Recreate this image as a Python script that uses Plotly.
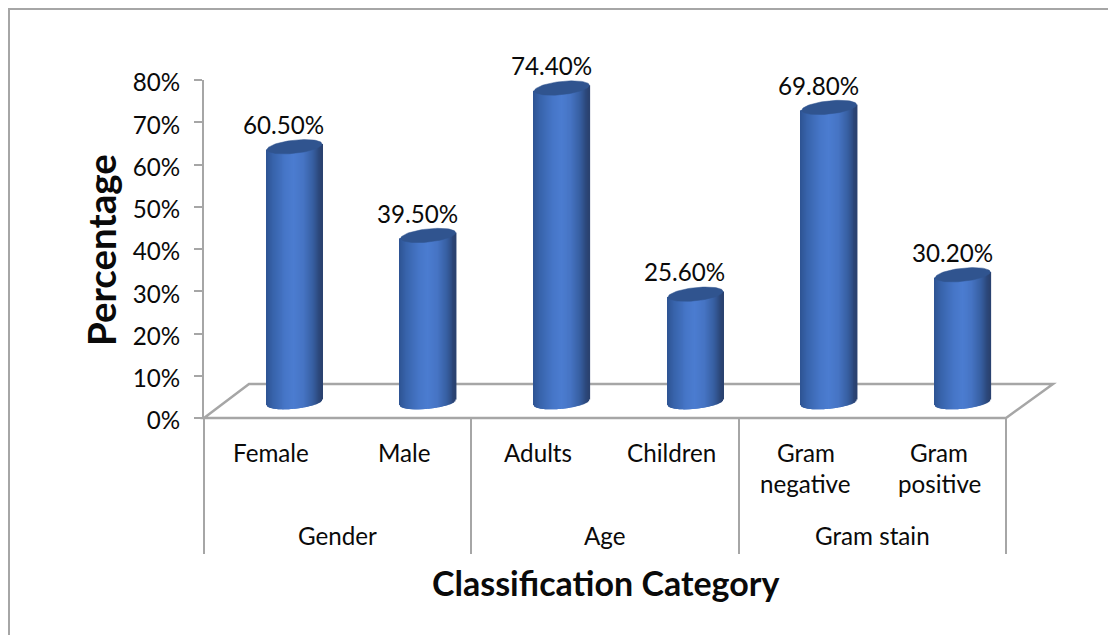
import numpy as np
import plotly.graph_objects as go

# Chart data
groups = ["Gender", "Age", "Gram stain"]
categories = ["Female", "Male", "Adults", "Children", "Gram negative", "Gram positive"]
category_lines = [["Female"], ["Male"], ["Adults"], ["Children"], ["Gram", "negative"], ["Gram", "positive"]]
values = [60.5, 39.5, 74.4, 25.6, 69.8, 30.2]
y_ticks = [0, 10, 20, 30, 40, 50, 60, 70, 80]
group_edges = [0, 2, 4, 6]

# Canvas and plot box, in pixels
W, H = 1108, 635
L, R, T, B = 204, 1006, 80, 418
PX_X = (R - L) / 6          # pixels per category
PX_Y = (B - T) / 80         # pixels per percentage point

GREY = "#a6a6a6"
INK = "#0a0a0a"
FONT = "Lato"
LABEL_SIZE = 24.2
CAP = "#30548f"

# Cylinder geometry: floor depth shifts each column right and up
DEPTH_X = 23.7 / PX_X
BASE = 3.7
HALF_W = 27.5 / PX_X
CAP_H = 6.6 / PX_Y
FOOT_H = 6.4 / PX_Y
TILT = 2.8 / PX_Y
STRIPS = 57

# Horizontal shading across a cylinder, left edge to right edge
shade_u = [-1.0, -0.75, -0.3, 0.0, 0.35, 0.7, 0.9, 1.0]
shade_rgb = [
    (46, 84, 148), (56, 100, 172), (70, 118, 200), (75, 124, 208),
    (70, 116, 196), (54, 94, 160), (44, 72, 124), (42, 66, 112),
]


def shade(u):
    ch = [np.interp(u, shade_u, [c[k] for c in shade_rgb]) for k in range(3)]
    return "rgb(%d,%d,%d)" % tuple(int(round(c)) for c in ch)


us = np.linspace(-1, 1, STRIPS)
strip_x, strip_base, strip_h, strip_c = [], [], [], []
for i, v in enumerate(values):
    cx = i + 0.5 + DEPTH_X
    for u in us:
        root = np.sqrt(max(0.0, 1 - u * u))
        low = BASE + TILT * u - FOOT_H * root
        high = BASE + v + TILT * u
        strip_x.append(cx + u * HALF_W)
        strip_base.append(low)
        strip_h.append(high - low)
        strip_c.append(shade(u))

fig = go.Figure()

fig.add_trace(go.Bar(
    x=strip_x, y=strip_h, base=strip_base,
    width=[1.5 / PX_X] * len(strip_x),
    marker=dict(color=strip_c, line=dict(width=0)),
    cliponaxis=False, hoverinfo="skip", showlegend=False,
))

# Top face of each cylinder
theta = np.linspace(0, 2 * np.pi, 73)
cap_x, cap_y = [], []
for i, v in enumerate(values):
    cx = i + 0.5 + DEPTH_X
    cap_x += list(cx + HALF_W * np.cos(theta)) + [None]
    cap_y += list(BASE + v + TILT * np.cos(theta) + CAP_H * np.sin(theta)) + [None]
fig.add_trace(go.Scatter(
    x=cap_x, y=cap_y, mode="lines", fill="toself", fillcolor=CAP,
    line=dict(color=CAP, width=0.5), cliponaxis=False,
    hoverinfo="skip", showlegend=False,
))


def px(x):
    return (x - L) / (R - L)


def py(y):
    return (B - y) / (B - T)


# Floor parallelogram and the outer frame
floor = "M %f %f L %f %f L %f %f L %f %f Z" % (
    px(L), py(B), px(249), py(384), px(1053), py(384), px(R), py(B))
frame = "M %f %f L %f %f L %f %f" % (px(9), py(H + 5), px(9), py(9), px(W + 5), py(9))
shapes = [
    dict(type="path", xref="paper", yref="paper", path=floor, layer="below",
         line=dict(color=GREY, width=2.5)),
    dict(type="path", xref="paper", yref="paper", path=frame, layer="below",
         line=dict(color=GREY, width=2)),
]

annotations = []
# Value labels above each column
for i, v in enumerate(values):
    annotations.append(dict(
        x=i + 0.5, y=v, xref="x", yref="y", text="%.2f%%" % v, showarrow=False,
        xshift=13, yshift=38, xanchor="center", yanchor="middle",
        font=dict(family=FONT, size=LABEL_SIZE, color=INK),
    ))
# Category labels, one line at a time
for i, lines in enumerate(category_lines):
    for k, line in enumerate(lines):
        annotations.append(dict(
            x=i + 0.5, y=py(452 + 31 * k), xref="x", yref="paper", text=line,
            showarrow=False, xanchor="center", yanchor="middle",
            font=dict(family=FONT, size=LABEL_SIZE, color=INK),
        ))
# Group labels
for i, g in enumerate(groups):
    annotations.append(dict(
        x=(group_edges[i] + group_edges[i + 1]) / 2, y=py(535), xref="x", yref="paper",
        text=g, showarrow=False, xanchor="center", yanchor="middle",
        font=dict(family=FONT, size=LABEL_SIZE, color=INK),
    ))
# Axis titles
annotations.append(dict(
    x=px(605), y=py(582), xref="paper", yref="paper", text="<b>Classification Category</b>",
    showarrow=False, xanchor="center", yanchor="middle",
    font=dict(family=FONT, size=34, color=INK),
))
annotations.append(dict(
    x=px(101), y=py(250), xref="paper", yref="paper", text="<b>Percentage</b>",
    showarrow=False, xanchor="center", yanchor="middle", textangle=-90,
    font=dict(family=FONT, size=38.5, color=INK),
))

fig.update_layout(
    width=W, height=H, autosize=False,
    margin=dict(l=L, r=W - R, t=T, b=H - B),
    paper_bgcolor="white", plot_bgcolor="white",
    barmode="overlay", showlegend=False,
    shapes=shapes, annotations=annotations,
    xaxis=dict(
        range=[0, 6], tickmode="array", tickvals=group_edges, showticklabels=False,
        ticks="outside", ticklen=135, tickwidth=1.5, tickcolor=GREY,
        showline=False, showgrid=False, zeroline=False,
    ),
    yaxis=dict(
        range=[0, 80], tickmode="array", tickvals=y_ticks,
        ticktext=["%d%%" % t for t in y_ticks],
        ticks="outside", ticklen=8, tickwidth=1.5, tickcolor=GREY,
        showline=True, linecolor=GREY, linewidth=2,
        showgrid=False, zeroline=False,
        ticklabelstandoff=9, ticklabelshift=3,
        tickfont=dict(family=FONT, size=LABEL_SIZE, color=INK),
    ),
)

fig.write_html("out.html")
